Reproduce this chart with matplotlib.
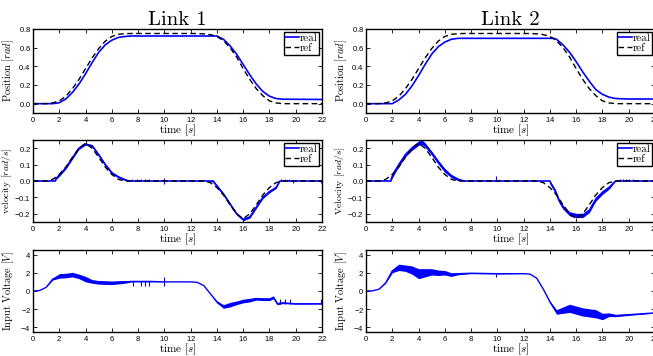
import matplotlib
matplotlib.use("Agg")
import matplotlib.pyplot as plt
import numpy as np

plt.rcParams['font.family'] = ['cmr10', 'DejaVu Serif']
plt.rcParams['mathtext.fontset'] = 'cm'
plt.rcParams['axes.formatter.use_mathtext'] = True
plt.rcParams['axes.unicode_minus'] = False

# ---- position [rad] ----
t_ref_pos = [0, 1, 1.5, 2, 2.5, 3, 3.5, 4, 4.5, 5, 5.5, 6, 6.5, 7, 7.5, 8, 12, 12.5, 13, 13.5, 14,
             14.5, 15, 15.5, 16, 16.5, 17, 17.5, 18, 18.5, 19, 22]
ref_pos = [0, 0, 0.008, 0.03, 0.08, 0.16, 0.26, 0.375, 0.49, 0.59, 0.67, 0.72, 0.743, 0.75, 0.752, 0.752,
           0.752, 0.751, 0.748, 0.74, 0.72, 0.675, 0.6, 0.5, 0.375, 0.26, 0.16, 0.085, 0.03, 0.008, 0, 0]

t_pos1 = [0, 1.5, 2, 2.5, 3, 3.5, 4, 4.5, 5, 5.5, 6, 6.5, 7, 7.5, 14, 14.5, 15, 15.5, 16, 16.5, 17,
          17.5, 18, 18.5, 19, 22]
pos1 = [0, 0, 0.01, 0.05, 0.12, 0.21, 0.32, 0.44, 0.55, 0.63, 0.68, 0.71, 0.72, 0.725, 0.725, 0.69,
        0.62, 0.53, 0.42, 0.31, 0.21, 0.13, 0.08, 0.055, 0.048, 0.045]

t_pos2 = [0, 2, 2.5, 3, 3.5, 4, 4.5, 5, 5.5, 6, 6.5, 7, 7.5, 14.3, 14.5, 15, 15.5, 16, 16.5, 17, 17.5,
          18, 18.5, 19, 20, 22]
pos2 = [0, 0, 0.04, 0.1, 0.19, 0.3, 0.42, 0.53, 0.61, 0.66, 0.69, 0.70, 0.70, 0.70, 0.69, 0.63, 0.55,
        0.45, 0.34, 0.24, 0.15, 0.1, 0.07, 0.055, 0.05, 0.05]

# ---- velocity [rad/s] ----
t_ref_vel = [0, 1, 1.5, 2, 2.5, 3, 3.5, 4, 4.5, 5, 5.5, 6, 6.5, 7, 13, 13.5, 14, 14.5, 15, 15.5, 16,
             16.5, 17, 17.5, 18, 18.5, 19, 22]
ref_vel = [0, 0, 0.01, 0.04, 0.085, 0.145, 0.2, 0.23, 0.2, 0.145, 0.085, 0.04, 0.01, 0, 0, -0.01, -0.04,
           -0.085, -0.145, -0.2, -0.23, -0.2, -0.145, -0.085, -0.04, -0.01, 0, 0]

t_vel1 = [0, 1.7, 1.75, 2, 2.5, 3, 3.5, 4, 4.5, 5, 5.5, 6, 6.5, 7, 7.3, 13.4, 13.7, 14, 14.5, 15, 15.5,
          16, 16.5, 17, 17.5, 18, 18.5, 18.8, 22]
vel1 = [0, 0, 0.015, 0.035, 0.08, 0.14, 0.2, 0.225, 0.215, 0.16, 0.1, 0.05, 0.025, 0.008, 0, 0, 0.0,
        -0.03, -0.08, -0.14, -0.2, -0.235, -0.22, -0.16, -0.1, -0.065, -0.04, 0.0, 0]
vel1_noise = [0, 0, 0.006, 0.007, 0.007, 0.007, 0.007, 0.006, 0.006, 0.007, 0.007, 0.007, 0.006, 0.005,
              0, 0, 0.007, 0.007, 0.007, 0.007, 0.007, 0.007, 0.007, 0.007, 0.007, 0.007, 0.006, 0, 0]
vel1_spk_t = [7.55, 7.9, 8.25, 8.55, 8.85, 10.0, 18.85, 19.15, 19.5, 19.8, 21.95]
vel1_spk_lo = [0, 0, 0, 0, 0, -0.02, 0, 0, 0, -0.012, -0.015]
vel1_spk_hi = [0.015, 0.015, 0.015, 0.015, 0.015, 0.02, 0.015, 0.012, 0.01, 0, 0]

t_vel2 = [0, 1.9, 1.95, 2.2, 2.5, 3, 3.5, 4, 4.3, 4.5, 5, 5.5, 6, 6.5, 7, 7.5, 14.0, 14.1, 14.4, 14.7,
          15, 15.5, 16, 16.5, 17, 17.5, 18, 18.5, 19, 22]
vel2 = [0, 0, 0.02, 0.06, 0.1, 0.16, 0.2, 0.23, 0.235, 0.22, 0.17, 0.115, 0.065, 0.03, 0.01, 0, 0,
        -0.02, -0.06, -0.12, -0.16, -0.2, -0.21, -0.21, -0.18, -0.11, -0.07, -0.04, 0, 0]
vel2_noise = [0, 0, 0.01, 0.012, 0.012, 0.012, 0.013, 0.013, 0.013, 0.013, 0.012, 0.012, 0.012, 0.01,
              0.008, 0, 0, 0.01, 0.012, 0.012, 0.012, 0.013, 0.013, 0.013, 0.013, 0.012, 0.012, 0.01, 0, 0]
vel2_spk_t = [9.9, 19.3, 19.55, 19.8, 20.05, 20.3]
vel2_spk_lo = [0, 0, 0, 0, 0, 0]
vel2_spk_hi = [0.03, 0.012, 0.012, 0.012, 0.012, 0.012]

# ---- input voltage [V] ----
t_u1 = [0, 0.5, 1, 1.5, 2, 2.5, 3, 3.5, 4, 4.5, 5, 6, 7, 7.5, 9, 10, 12, 12.5, 13, 13.5, 14, 14.5, 15,
        15.5, 16, 16.5, 17, 17.5, 18, 18.3, 18.6, 19, 20, 22]
u1 = [0, 0.05, 0.4, 1.3, 1.65, 1.7, 1.8, 1.6, 1.3, 1.05, 0.95, 0.9, 1.0, 1.05, 1.05, 1.0, 1.0, 0.95, 0.6,
      -0.3, -1.2, -1.7, -1.5, -1.3, -1.1, -1.0, -0.85, -0.9, -0.9, -0.7, -1.4, -1.3, -1.4, -1.4]
u1_noise = [0, 0, 0, 0.1, 0.25, 0.25, 0.25, 0.25, 0.3, 0.2, 0.2, 0.2, 0.15, 0.05, 0.05, 0, 0, 0, 0, 0,
            0.12, 0.2, 0.25, 0.2, 0.2, 0.2, 0.15, 0.15, 0.15, 0.15, 0.12, 0.08, 0.05, 0.03]
u1_spk_t = [7.6, 8.2, 8.5, 8.8, 10.0, 18.8, 19.2, 19.6, 21.9]
u1_spk_lo = [0.5, 0.5, 0.5, 0.5, 0.5, -1.4, -1.4, -1.4, -1.4]
u1_spk_hi = [1.05, 1.05, 1.05, 1.05, 1.5, -0.9, -0.9, -0.9, -0.9]

t_u2 = [0, 0.5, 1, 1.5, 2, 2.5, 3, 3.5, 4, 4.5, 5, 5.5, 6, 6.5, 7, 8, 10, 12, 12.5, 13, 13.5, 14, 14.5,
        15, 15.5, 16, 16.5, 17, 17.5, 18, 18.5, 19, 20, 21, 22]
u2 = [0, 0.02, 0.2, 0.9, 2.2, 2.6, 2.5, 2.3, 1.9, 2.0, 2.1, 2.0, 2.0, 1.8, 1.9, 1.95, 1.9, 1.9, 1.85, 1.4,
      0.2, -1.2, -2.3, -2.1, -1.9, -2.1, -2.3, -2.4, -2.5, -2.8, -2.6, -2.7, -2.6, -2.5, -2.4]
u2_noise = [0, 0, 0, 0.05, 0.2, 0.35, 0.35, 0.45, 0.55, 0.45, 0.35, 0.3, 0.25, 0.2, 0.12, 0.05, 0.03, 0,
            0, 0, 0, 0.1, 0.25, 0.35, 0.45, 0.45, 0.45, 0.45, 0.45, 0.35, 0.2, 0.12, 0.08, 0.05, 0.03]
u2_spk_t = [9.9]
u2_spk_lo = [1.5]
u2_spk_hi = [1.9]

xticks = list(range(0, 23, 2))
tick_font = ['Liberation Sans Narrow', 'Liberation Sans', 'DejaVu Sans']
blue = '#0000ff'


def style(ax, ylim, yticks, ylabel, labx=-0.058, labsize=7.5):
    ax.set_xlim(0, 22)
    ax.set_ylim(*ylim)
    ax.set_xticks(xticks)
    ax.set_yticks(yticks)
    ax.tick_params(direction='in', top=True, right=True, length=3, width=0.6, pad=1.5, labelsize=5.5)
    for lab in ax.get_xticklabels() + ax.get_yticklabels():
        lab.set_family(tick_font)
    for s in ax.spines.values():
        s.set_linewidth(1.0)
    ax.set_xlabel('time $[s]$', fontsize=8, labelpad=-1)
    ax.set_ylabel(ylabel, fontsize=labsize)
    ax.yaxis.set_label_coords(labx, 0.5)


def legend(ax):
    leg = ax.legend(loc='upper right', fontsize=8, handlelength=1.2, handletextpad=0.1,
                    borderpad=0.15, borderaxespad=0.25, labelspacing=0.0, fancybox=False,
                    framealpha=1, edgecolor='black')
    leg.get_frame().set_linewidth(1.0)


fig = plt.figure(figsize=(6.53, 3.56), dpi=100)
lefts = [33 / 653, 366 / 653]
w = 289 / 653
rows = [(1 - 113 / 356, 84 / 356), (1 - 222 / 356, 82 / 356), (1 - 332 / 356, 82 / 356)]

pos_data = [(t_pos1, pos1), (t_pos2, pos2)]
vel_data = [(t_vel1, vel1, vel1_noise, vel1_spk_t, vel1_spk_lo, vel1_spk_hi),
            (t_vel2, vel2, vel2_noise, vel2_spk_t, vel2_spk_lo, vel2_spk_hi)]
u_data = [(t_u1, u1, u1_noise, u1_spk_t, u1_spk_lo, u1_spk_hi),
          (t_u2, u2, u2_noise, u2_spk_t, u2_spk_lo, u2_spk_hi)]
vel_names = ['velocity $[rad/s]$', 'Velocity $[rad/s]$']

for i in range(2):
    # position
    ax = fig.add_axes([lefts[i], rows[0][0], w, rows[0][1]])
    ax.plot(pos_data[i][0], pos_data[i][1], color=blue, lw=1.2, label='real')
    ax.plot(t_ref_pos, ref_pos, color='black', lw=1.0, ls=(0, (4, 2.5)), label='ref')
    style(ax, (-0.1, 0.8), [0, 0.2, 0.4, 0.6, 0.8], 'Position $[rad]$')
    legend(ax)
    ax.set_title('Link %d' % (i + 1), fontsize=15, pad=3)

    # velocity
    t, v, n, st, slo, shi = vel_data[i]
    v = np.array(v)
    n = np.array(n)
    ax = fig.add_axes([lefts[i], rows[1][0], w, rows[1][1]])
    ax.fill_between(t, v - n, v + n, color=blue, lw=0)
    ax.plot(t, v, color=blue, lw=1.2, label='real')
    ax.vlines(st, slo, shi, color=blue, lw=0.8)
    ax.plot(t_ref_vel, ref_vel, color='black', lw=1.0, ls=(0, (4, 2.5)), label='ref')
    style(ax, (-0.25, 0.25), [-0.2, -0.1, 0, 0.1, 0.2], vel_names[i], labx=-0.067, labsize=7)
    legend(ax)

    # input voltage
    t, u, n, st, slo, shi = u_data[i]
    u = np.array(u)
    n = np.array(n)
    ax = fig.add_axes([lefts[i], rows[2][0], w, rows[2][1]])
    ax.fill_between(t, u - n, u + n, color=blue, lw=0)
    ax.plot(t, u, color=blue, lw=1.0)
    ax.vlines(st, slo, shi, color=blue, lw=0.8)
    style(ax, (-4.5, 4.5), [-4, -2, 0, 2, 4], 'Input Voltage $[V]$')

fig.savefig('out.png', dpi=100)
